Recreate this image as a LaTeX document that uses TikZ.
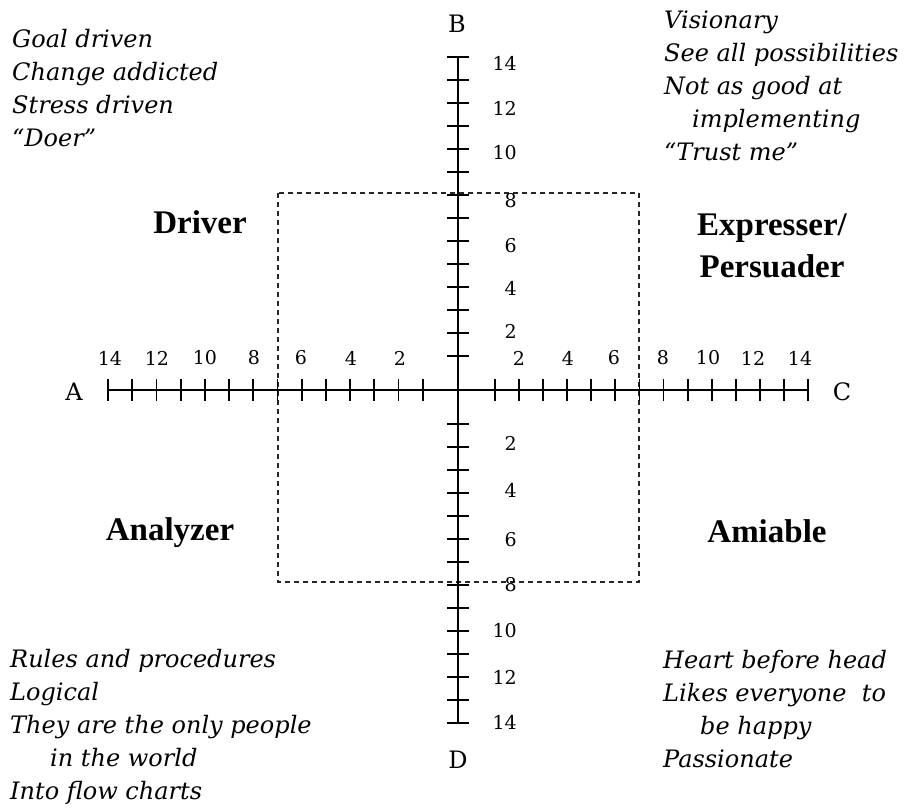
\documentclass[tikz,border=0pt]{standalone}
\usepackage{fontspec}
\setmainfont{DejaVu Serif}
\newfontfamily\quadfont{Liberation Serif}
\newfontfamily\notefont{DejaVu Serif}
\begin{document}
\begin{tikzpicture}[x=1pt,y=-1pt,
  axisline/.style={line width=1.8pt, black},
  tickmark/.style={line width=1.8pt, black},
  dashbox/.style={line width=1.4pt, black!85, dash pattern=on 5pt off 4pt},
  note/.style={font=\notefont\itshape\fontsize{24}{33}\selectfont, align=left, anchor=base west, inner sep=0pt},
  quad/.style={font=\quadfont\bfseries\fontsize{33}{42}\selectfont, align=center, anchor=base, inner sep=0pt},
  num/.style={font=\fontsize{19}{19}\selectfont, inner sep=0pt},
  letter/.style={font=\fontsize{24}{24}\selectfont, inner sep=0pt}]

\useasboundingbox (0,0) rectangle (908,809);

% dashed box
\draw[dashbox] (278,193) rectangle (639,582);

% axes
\coordinate (W) at (108,390);
\coordinate (E) at (808,390);
\coordinate (N) at (458,57);
\coordinate (S) at (458,723);
\draw[axisline] (W) -- (E);
\draw[axisline] (N) -- (S);

% ticks
\foreach \k in {1,...,14} {
  \pgfmathsetmacro\xl{108+(14-\k)*24.2}
  \pgfmathsetmacro\xr{808-(14-\k)*24.08}
  \pgfmathsetmacro\yt{57+(14-\k)*23}
  \pgfmathsetmacro\yb{723-(14-\k)*23}
  \draw[tickmark] (\xl,379) -- (\xl,401);
  \draw[tickmark] (\xr,379) -- (\xr,401);
  \draw[tickmark] (447,\yt) -- (469,\yt);
  \draw[tickmark] (447,\yb) -- (469,\yb);
}

% horizontal tick labels
\foreach \v/\x [count=\i] in {14/110,12/157,10/205,8/254,6/301,4/351,2/400}
  \node[num] (hl\i) at (\x,358) {\v};
\foreach \v/\x [count=\i] in {2/519,4/568,6/614,8/663,10/708,12/753,14/800}
  \node[num] (hr\i) at (\x,358) {\v};
% vertical tick labels
\foreach \v/\y [count=\i] in {14/63,12/108,10/153,8/201,6/246,4/288,2/331}
  \node[num, anchor=east] (vt\i) at (517,\y) {\v};
\foreach \v/\y [count=\i] in {2/443,4/490,6/540,8/585,10/631,12/677,14/722}
  \node[num, anchor=east] (vb\i) at (517,\y) {\v};

% axis letters
\node[letter] (A) at (74,392) {A};
\node[letter] (B) at (457,24) {B};
\node[letter] (C) at (842,392) {C};
\node[letter] (D) at (458,760) {D};

% quadrant labels
\node[quad] (driver) at (200,233) {Driver};
\node[quad] (expr) at (772,277) {Expresser/\\Persuader};
\node[quad] (analyzer) at (170,540) {Analyzer};
\node[quad] (amiable) at (767,542) {Amiable};

% notes (anchored at the baseline of the last line)
\node[note] (tl) at (12,146) {Goal driven\\Change addicted\\Stress driven\\“Doer”};
\node[note] (tr) at (664,160) {Visionary\\See all possibilities\\Not as good at\\\hspace*{28pt}implementing\\“Trust me”};
\node[note] (bl) at (10,799) {Rules and procedures\\Logical\\They are the only people\\\hspace*{40pt}in the world\\Into flow charts};
\node[note] (br) at (663,767) {Heart before head\\Likes everyone\ \ to\\\hspace*{37pt}be happy\\Passionate};
\end{tikzpicture}
\end{document}
